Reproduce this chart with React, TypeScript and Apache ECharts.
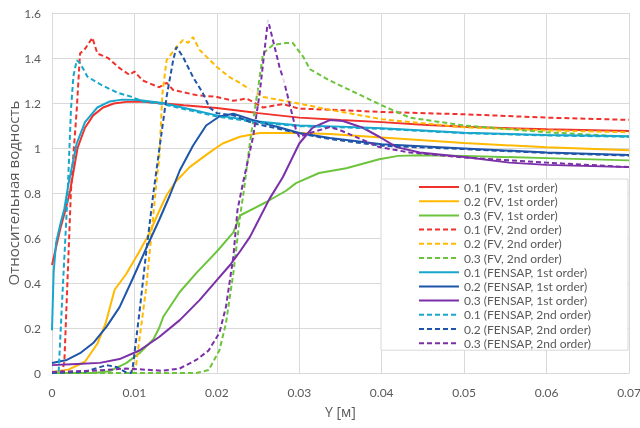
import React, { useEffect, useRef } from "react";
import * as echarts from "echarts";

// X: Y [м], Y: relative water content
const xTicks = [0, 0.01, 0.02, 0.03, 0.04, 0.05, 0.06, 0.07];
const yTicks = [0, 0.2, 0.4, 0.6, 0.8, 1.0, 1.2, 1.4, 1.6];

const seriesNames = [
  "0.1 (FV, 1st order)",
  "0.2 (FV, 1st order)",
  "0.3 (FV, 1st order)",
  "0.1 (FV, 2nd order)",
  "0.2 (FV, 2nd order)",
  "0.3 (FV, 2nd order)",
  "0.1 (FENSAP, 1st order)",
  "0.2 (FENSAP, 1st order)",
  "0.3 (FENSAP, 1st order)",
  "0.1 (FENSAP, 2nd order)",
  "0.2 (FENSAP, 2nd order)",
  "0.3 (FENSAP, 2nd order)",
];

const fv1_01 = [[0,0.48],[0.0005,0.56],[0.001,0.64],[0.0016,0.72],[0.0022,0.81],[0.0031,1.0],[0.004,1.09],[0.005,1.145],[0.0062,1.18],[0.0075,1.198],[0.009,1.205],[0.0105,1.207],[0.013,1.2],[0.016,1.19],[0.02,1.178],[0.025,1.155],[0.03,1.135],[0.035,1.124],[0.04,1.115],[0.045,1.103],[0.05,1.094],[0.06,1.083],[0.07,1.076]];
const fv1_02 = [[0,0.005],[0.002,0.015],[0.004,0.05],[0.0055,0.13],[0.0065,0.22],[0.0076,0.37],[0.009,0.44],[0.0106,0.54],[0.0118,0.62],[0.013,0.72],[0.0139,0.79],[0.015,0.85],[0.0167,0.915],[0.019,0.977],[0.0207,1.02],[0.0228,1.05],[0.0252,1.067],[0.03,1.067],[0.0337,1.062],[0.04,1.047],[0.05,1.022],[0.06,1.003],[0.07,0.99]];
const fv1_03 = [[0,0],[0.005,0],[0.007,0.008],[0.009,0.044],[0.0106,0.088],[0.0123,0.15],[0.013,0.2],[0.0135,0.25],[0.0155,0.36],[0.0175,0.444],[0.02,0.54],[0.022,0.625],[0.0228,0.7],[0.026,0.76],[0.0284,0.81],[0.0296,0.844],[0.0324,0.889],[0.0357,0.91],[0.0397,0.95],[0.042,0.965],[0.045,0.968],[0.05,0.965],[0.06,0.955],[0.07,0.945]];
const fv2_01 = [[0,0],[0.0012,0],[0.0015,0.05],[0.0023,0.81],[0.0025,0.92],[0.003,1.17],[0.0034,1.42],[0.004,1.44],[0.0049,1.49],[0.0055,1.42],[0.0068,1.4],[0.0082,1.355],[0.0094,1.325],[0.01,1.34],[0.011,1.3],[0.013,1.27],[0.0139,1.29],[0.0147,1.258],[0.0175,1.235],[0.02,1.227],[0.022,1.21],[0.0236,1.22],[0.0256,1.18],[0.028,1.195],[0.03,1.175],[0.034,1.17],[0.04,1.16],[0.05,1.15],[0.06,1.135],[0.07,1.125]];
const fv2_02 = [[0,0],[0.0095,0],[0.0102,0.036],[0.0114,0.37],[0.0122,0.667],[0.0127,0.86],[0.013,0.95],[0.0134,1.244],[0.0139,1.39],[0.0151,1.449],[0.0159,1.48],[0.0165,1.467],[0.0171,1.493],[0.0179,1.436],[0.02,1.36],[0.0215,1.316],[0.0228,1.289],[0.0236,1.27],[0.0256,1.227],[0.0296,1.2],[0.0337,1.17],[0.04,1.128],[0.05,1.092],[0.06,1.078],[0.07,1.07]];
const fv2_03 = [[0,0],[0.0175,0],[0.019,0.013],[0.0203,0.1],[0.0211,0.22],[0.022,0.444],[0.0228,0.693],[0.0232,0.79],[0.024,1.02],[0.0246,1.17],[0.0252,1.316],[0.0256,1.42],[0.0268,1.458],[0.0284,1.467],[0.0292,1.467],[0.0305,1.404],[0.0313,1.35],[0.0337,1.3],[0.0361,1.258],[0.04,1.19],[0.0434,1.135],[0.05,1.1],[0.06,1.07],[0.07,1.05]];
const fs1_01 = [[0,0.19],[0.0002,0.45],[0.0005,0.58],[0.001,0.66],[0.0015,0.73],[0.002,0.84],[0.003,1.02],[0.004,1.115],[0.0055,1.18],[0.007,1.207],[0.0085,1.215],[0.0105,1.213],[0.0134,1.2],[0.017,1.17],[0.02,1.145],[0.025,1.118],[0.03,1.1],[0.035,1.095],[0.04,1.088],[0.05,1.068],[0.06,1.058],[0.07,1.052]];
const fs1_02 = [[0,0.044],[0.0018,0.058],[0.0034,0.088],[0.005,0.133],[0.0066,0.205],[0.0082,0.293],[0.0098,0.42],[0.0115,0.56],[0.013,0.68],[0.0143,0.79],[0.0155,0.9],[0.0171,1.01],[0.0187,1.1],[0.0203,1.14],[0.022,1.152],[0.0244,1.124],[0.03,1.067],[0.0337,1.044],[0.04,1.017],[0.05,0.998],[0.06,0.98],[0.07,0.969]];
const fs1_03 = [[0,0.035],[0.003,0.04],[0.0058,0.045],[0.0082,0.062],[0.0106,0.1],[0.013,0.16],[0.0155,0.235],[0.0179,0.324],[0.02,0.413],[0.0216,0.48],[0.0228,0.54],[0.024,0.604],[0.0264,0.775],[0.028,0.87],[0.03,1.02],[0.0316,1.09],[0.0337,1.124],[0.0353,1.12],[0.0377,1.09],[0.0397,1.05],[0.0418,1.004],[0.0446,0.98],[0.05,0.96],[0.0555,0.935],[0.06,0.925],[0.07,0.915]];
const fs2_01 = [[0,0],[0.0008,0],[0.0012,0.3],[0.0019,0.8],[0.0023,1.17],[0.0026,1.32],[0.003,1.39],[0.0034,1.378],[0.0043,1.317],[0.006,1.28],[0.008,1.245],[0.0097,1.227],[0.011,1.207],[0.0134,1.195],[0.017,1.165],[0.02,1.14],[0.025,1.113],[0.03,1.097],[0.035,1.092],[0.04,1.085],[0.05,1.066],[0.06,1.056],[0.07,1.05]];
const fs2_02 = [[0,0],[0.004,0.005],[0.0066,0.035],[0.0078,0.027],[0.009,0.003],[0.0096,0],[0.0098,0.027],[0.0106,0.267],[0.0115,0.56],[0.0123,0.8],[0.013,0.99],[0.0139,1.227],[0.0147,1.39],[0.0151,1.449],[0.0159,1.404],[0.0171,1.316],[0.0183,1.244],[0.0191,1.18],[0.02,1.155],[0.022,1.145],[0.0244,1.11],[0.03,1.065],[0.0337,1.04],[0.04,1.01],[0.05,0.995],[0.06,0.978],[0.07,0.966]];
const fs2_03 = [[0,0.005],[0.005,0.01],[0.009,0.02],[0.0134,0.01],[0.0155,0.02],[0.0175,0.058],[0.019,0.1],[0.0203,0.178],[0.0211,0.293],[0.022,0.516],[0.0225,0.724],[0.0232,0.85],[0.0244,1.05],[0.0252,1.244],[0.0262,1.569],[0.0268,1.48],[0.0276,1.36],[0.0281,1.302],[0.0288,1.2],[0.0296,1.08],[0.03,1.05],[0.0313,1.067],[0.0337,1.093],[0.0349,1.08],[0.0377,1.036],[0.0397,1.004],[0.0434,0.98],[0.05,0.958],[0.06,0.935],[0.07,0.915]];

const markerPoints = [[0.0244, 1.253], [0.0262, 1.569], [0.0281, 1.298]];
const markerColors = ["#7f7f7f", "#7f7f7f", "#7b2fa8"];

const seriesData = [fv1_01, fv1_02, fv1_03, fv2_01, fv2_02, fv2_03, fs1_01, fs1_02, fs1_03, fs2_01, fs2_02, fs2_03];
const seriesColors = ["#f0322c", "#ffb900", "#6cc43c", "#f0322c", "#ffb900", "#6cc43c", "#18a6cc", "#1f55a8", "#7b2fa8", "#18a6cc", "#1f55a8", "#7b2fa8"];
const seriesDashed = [false, false, false, true, true, true, false, false, false, true, true, true];

const fmt = (v: number) => String(Number(v.toFixed(2)));

export default function App() {
  const ref = useRef<HTMLDivElement>(null);
  useEffect(() => {
    if (!ref.current) return;
    const chart = echarts.init(ref.current, undefined, { renderer: "svg" });
    const gridColor = "#d9d9d9";
    const textColor = "#595959";
    const series: any[] = seriesNames.map((name, i) => ({
      name,
      type: "line",
      data: seriesData[i],
      symbol: "none",
      color: seriesColors[i],
      lineStyle: { width: 2, color: seriesColors[i], type: seriesDashed[i] ? [5, 3] : "solid" },
      z: 3,
    }));
    series.push({
      name: "markers",
      type: "scatter",
      symbol: "emptyCircle",
      symbolSize: 7,
      z: 5,
      data: markerPoints.map((p, i) => ({
        value: p,
        itemStyle: { color: "#fff", borderColor: markerColors[i], borderWidth: 1.5 },
      })),
    });
    chart.setOption({
      animation: false,
      textStyle: { fontFamily: "Lato" },
      grid: { left: 52, right: 11, top: 13, bottom: 55, containLabel: false, outerBoundsMode: "none" },
      xAxis: {
        type: "value",
        min: xTicks[0],
        max: xTicks[xTicks.length - 1],
        interval: 0.01,
        axisLine: { show: true, lineStyle: { color: gridColor } },
        axisTick: { show: false },
        splitLine: { show: true, lineStyle: { color: gridColor, width: 1 } },
        axisLabel: { color: textColor, fontSize: 12, margin: 13, formatter: fmt },
        name: "Y [м]",
        nameLocation: "middle",
        nameGap: 31,
        nameMoveOverlap: false,
        nameTextStyle: { color: textColor, fontSize: 14, fontFamily: "Open Sans" },
      },
      yAxis: {
        type: "value",
        min: yTicks[0],
        max: yTicks[yTicks.length - 1],
        interval: 0.2,
        axisLine: { show: true, lineStyle: { color: gridColor } },
        axisTick: { show: false },
        splitLine: { show: true, lineStyle: { color: gridColor, width: 1 } },
        axisLabel: { color: textColor, fontSize: 12, margin: 11, formatter: (v: number) => String(Number(v.toFixed(1))) },
        name: "Относительная водность",
        nameLocation: "middle",
        nameGap: 32,
        nameMoveOverlap: false,
        nameTextStyle: { color: textColor, fontSize: 15, fontFamily: "Open Sans" },
      },
      legend: {
        data: seriesNames,
        orient: "vertical",
        right: 12,
        top: 179,
        itemWidth: 40,
        itemHeight: 14,
        itemGap: 2.2,
        padding: [2, 37, 1, 37],
        backgroundColor: "#fff",
        borderColor: gridColor,
        borderWidth: 1,
        borderRadius: 0,
        textStyle: { color: textColor, fontSize: 12, fontFamily: "Lato", padding: [0, 0, 0, 0] },
        itemStyle: { opacity: 0 },
        z: 10,
      },
      series,
    });
    return () => chart.dispose();
  }, []);
  return <div ref={ref} style={{ position: "fixed", left: 0, top: 0, width: 640, height: 428 }} />;
}
